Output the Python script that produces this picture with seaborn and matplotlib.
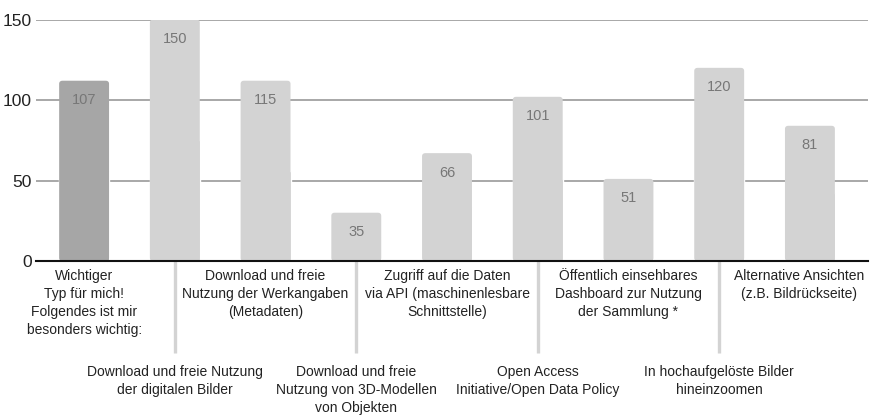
import matplotlib
matplotlib.use("Agg")
import matplotlib.pyplot as plt
from matplotlib.patches import FancyBboxPatch
import seaborn as sns
import pandas as pd

categories = [
    "Wichtiger\nTyp für mich!\nFolgendes ist mir\nbesonders wichtig:",
    "Download und freie Nutzung\nder digitalen Bilder",
    "Download und freie\nNutzung der Werkangaben\n(Metadaten)",
    "Download und freie\nNutzung von 3D-Modellen\nvon Objekten",
    "Zugriff auf die Daten\nvia API (maschinenlesbare\nSchnittstelle)",
    "Open Access\nInitiative/Open Data Policy",
    "Öffentlich einsehbares\nDashboard zur Nutzung\nder Sammlung *",
    "In hochaufgelöste Bilder\nhineinzoomen",
    "Alternative Ansichten\n(z.B. Bildrückseite)",
]
values = [112, 150, 112, 30, 67, 102, 51, 120, 84]
value_labels = ["107", "150", "115", "35", "66", "101", "51", "120", "81"]
bar_colors = ["#a6a6a6"] + ["#d3d3d3"] * 8
y_ticks = [0, 50, 100, 150]

sns.set_theme(style="white")
plt.rcParams["font.family"] = ["Liberation Sans", "DejaVu Sans"]

df = pd.DataFrame({"cat": categories, "val": values})

fig = plt.figure(figsize=(8.72, 4.16), dpi=100)
ax = fig.add_axes([0.0413, 0.3726, 0.9541, 0.5804])

sns.barplot(data=df, x="cat", y="val", hue="cat", palette=bar_colors,
            legend=False, width=0.55, ax=ax, saturation=1, zorder=3)

# rounded tops, square bottoms
for p, c in zip(list(ax.patches), bar_colors):
    x, y = p.get_x(), p.get_y()
    w, h = p.get_width(), p.get_height()
    fb = FancyBboxPatch((x, y), w, h,
                        boxstyle="round,pad=0,rounding_size=0.035",
                        mutation_aspect=56, facecolor=c, edgecolor="none",
                        zorder=3)
    ax.add_patch(fb)
    p.set_height(h / 2)

for i, v in enumerate(values):
    ax.annotate(value_labels[i], xy=(i, v), xytext=(0, -14),
                textcoords="offset points", ha="center", va="center",
                color="#777777", fontsize=10.5, zorder=5)

ax.set_ylim(0, 150)
ax.set_xlim(-0.53, 8.64)
ax.set_yticks(y_ticks)
ax.set_yticklabels([str(t) for t in y_ticks], fontsize=12.5, color="#222222")
ax.tick_params(axis="y", length=0, pad=3)

ax.yaxis.grid(True, color="#9a9a9a", linewidth=1.2, zorder=0)
ax.set_axisbelow(True)
for s in ["top", "right", "left"]:
    ax.spines[s].set_visible(False)
ax.spines["bottom"].set_color("#111111")
ax.spines["bottom"].set_linewidth(1.5)
ax.spines["bottom"].set_zorder(4)

major = list(range(0, len(categories), 2))
minor = list(range(1, len(categories), 2))
ax.set_xticks(major)
ax.set_xticklabels([categories[i] for i in major], fontsize=10,
                   color="#222222", linespacing=1.35)
ax.set_xticks(minor, minor=True)
ax.set_xticklabels([categories[i] for i in minor], minor=True, fontsize=10,
                   color="#222222", linespacing=1.35)
ax.tick_params(axis="x", which="major", length=0, pad=6)
ax.tick_params(axis="x", which="minor", length=66, width=2.4,
               color="#d3d3d3", pad=9, bottom=True)
ax.set_xlabel("")
ax.set_ylabel("")

# keep the last label inside the figure, as in the reference
fig.canvas.draw()
last = ax.get_xticklabels()[-1]
bb = last.get_window_extent()
overflow = bb.x1 - (fig.bbox.width - 8)
if overflow > 0:
    from matplotlib.transforms import offset_copy
    last.set_transform(offset_copy(last.get_transform(), fig=fig,
                                   x=-overflow, units="dots"))

fig.savefig("out.png", dpi=100)
